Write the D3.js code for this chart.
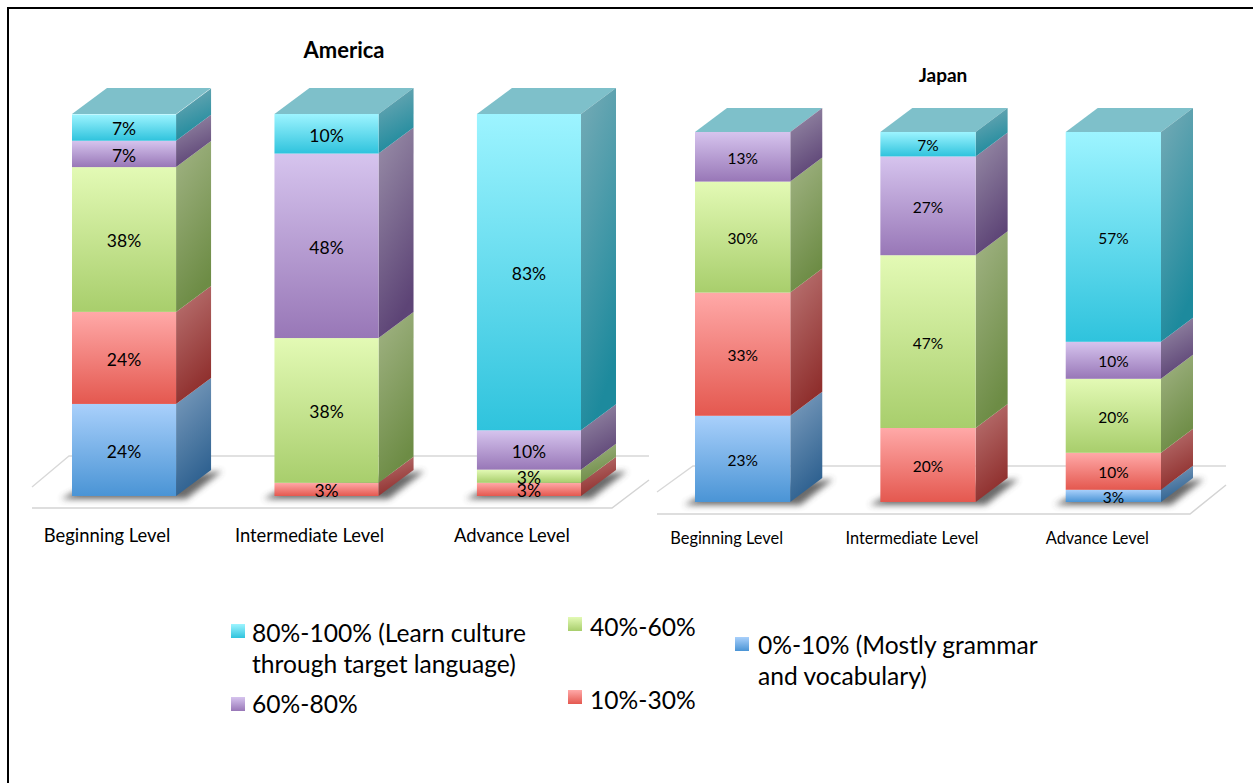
<!DOCTYPE html>
<html>
<head>
<meta charset="utf-8">
<script src="https://cdn.jsdelivr.net/npm/d3@7/dist/d3.min.js"></script>
<style>
html,body{margin:0;padding:0;background:#fff;overflow:hidden}
svg{display:block}
text{font-family:Lato,"Noto Sans",sans-serif;fill:#000}
</style>
</head>
<body>
<svg id="chart" width="1253" height="783"></svg>
<script>
// Data, stacked from the floor upward
const levels = ["Beginning Level", "Intermediate Level", "Advance Level"];
const bands = ["0%-10%", "10%-30%", "40%-60%", "60%-80%", "80%-100%"];

const americaBeginning    = [24.1, 24.1, 37.9, 6.9, 6.9];
const americaIntermediate = [0, 3.45, 37.9, 48.3, 10.35];
const americaAdvance      = [0, 3.45, 3.45, 10.3, 82.8];

const japanBeginning    = [23.3, 33.3, 30, 13.4, 0];
const japanIntermediate = [0, 20, 46.7, 26.7, 6.6];
const japanAdvance      = [3.3, 10, 20, 10, 56.7];

const legendLines = {
  "80%-100%": ["80%-100% (Learn culture", "through target language)"],
  "60%-80%": ["60%-80%"],
  "40%-60%": ["40%-60%"],
  "10%-30%": ["10%-30%"],
  "0%-10%": ["0%-10% (Mostly grammar", "and vocabulary)"]
};

// Styling
const bandColors = {
  "80%-100%": {f:["#9df4ff","#2fc3dd"], s:["#76abb6","#1d8a9d"], k:"c"},
  "60%-80%":  {f:["#d6c4ee","#9877b7"], s:["#9a8fa9","#5d4476"], k:"p"},
  "40%-60%":  {f:["#e3fab5","#a8ce6c"], s:["#a2b485","#6d8c45"], k:"g"},
  "10%-30%":  {f:["#ffa9a8","#e4584f"], s:["#bb7675","#8f2f2d"], k:"r"},
  "0%-10%":   {f:["#a9d0fb","#4a94d5"], s:["#7f9fbf","#2e6190"], k:"b"}
};
const topColor = "#7ec0ca";

const svg = d3.select("#chart");
const defs = svg.append("defs");
defs.append("filter").attr("id","blur").attr("x","-30%").attr("y","-100%").attr("width","160%").attr("height","300%")
  .append("feGaussianBlur").attr("stdDeviation",3);
bands.forEach(b => {
  const c = bandColors[b];
  const f = defs.append("linearGradient").attr("id","f"+c.k).attr("x1",0).attr("y1",0).attr("x2",0).attr("y2",1);
  f.append("stop").attr("offset",0).attr("stop-color",c.f[0]);
  f.append("stop").attr("offset",1).attr("stop-color",c.f[1]);
  const s = defs.append("linearGradient").attr("id","s"+c.k).attr("x1",0).attr("y1",0).attr("x2",0.3).attr("y2",1);
  s.append("stop").attr("offset",0).attr("stop-color",c.s[0]);
  s.append("stop").attr("offset",1).attr("stop-color",c.s[1]);
});

// Page frame: top and left rules only
svg.append("line").attr("x1",7).attr("x2",1253).attr("y1",8).attr("y2",8).attr("stroke","#000").attr("stroke-width",2);
svg.append("line").attr("x1",8).attr("x2",8).attr("y1",7).attr("y2",783).attr("stroke","#000").attr("stroke-width",2);

function panel(cfg){
  const rows = [cfg.data[0], cfg.data[1], cfg.data[2]];
  const x = d3.scaleBand().domain(levels).range(cfg.xr).paddingInner(0.486).paddingOuter(0);
  const y = d3.scaleLinear().domain([0,100]).range(cfg.yr);
  const stack = d3.stack().keys(d3.range(bands.length))
    .value((row,i)=>row[i]);
  const series = stack(rows);
  const g = svg.append("g");
  const dx = cfg.dx, dy = cfg.dy, fl = cfg.floor;

  // Floor
  g.append("path")
   .attr("d",`M${fl.l},${fl.fy-fl.h+fl.lift}L${fl.l+fl.d},${fl.by}L${fl.r+fl.d},${fl.by}`)
   .attr("fill","none").attr("stroke","#d8d8d8").attr("stroke-width",1.3);
  g.append("path")
   .attr("d",`M${fl.l},${fl.fy}L${fl.r},${fl.fy}L${fl.r+fl.d},${fl.fy-fl.h}`)
   .attr("fill","none").attr("stroke","#d4d4d4").attr("stroke-width",1.5);

  // Shadows
  g.selectAll(".shadow").data(levels).join("path").attr("class","shadow")
    .attr("filter","url(#blur)").attr("fill","#444").attr("opacity",0.8)
    .attr("d",l=>{
      const a=x(l), b=a+x.bandwidth(), yb=y(0);
      return `M${a-11},${yb+3}L${a+10},${yb-8}L${b+dx+11},${yb-dy+1}L${b+10},${yb+3}Z`;
    });

  levels.forEach((l,li)=>{
    const a=x(l), w=x.bandwidth(), bar=g.append("g");
    // Top face
    bar.append("path").attr("fill",topColor)
      .attr("d",`M${a},${y(100)}L${a+dx},${y(100)-dy}L${a+w+dx},${y(100)-dy}L${a+w},${y(100)}Z`);
    series.forEach((s,si)=>{
      const d=s[li]; if(d[1]-d[0]<=0) return;
      const k=bandColors[bands[si]].k;
      const y0=y(d[0]), y1=y(d[1]);
      bar.append("path").attr("fill",`url(#s${k})`)
        .attr("d",`M${a+w},${y1}L${a+w+dx},${y1-dy}L${a+w+dx},${y0-dy}L${a+w},${y0}Z`);
      bar.append("rect").attr("x",a).attr("y",y1).attr("width",w).attr("height",y0-y1).attr("fill",`url(#f${k})`);
    });
    series.forEach((s,si)=>{
      const d=s[li]; if(d[1]-d[0]<=0) return;
      bar.append("text").attr("x",a+w/2).attr("y",y((d[0]+d[1])/2)+cfg.fs*0.36+1.5)
        .attr("text-anchor","middle").style("font-size",cfg.fs+"px").text(Math.round(d[1]-d[0])+"%");
    });
  });

  // Category axis
  const axis = g.append("g").attr("transform",`translate(${cfg.axisDx},${cfg.axisY})`)
    .call(d3.axisBottom(x).tickSize(0).tickPadding(0));
  axis.select(".domain").remove();
  axis.selectAll("text").style("font-size",cfg.axisFs+"px").style("font-family","Lato,'Noto Sans',sans-serif").attr("fill","#000");

  // Title
  g.append("text").attr("x",cfg.tx).attr("y",cfg.ty).attr("text-anchor","middle")
    .style("font-size",cfg.tfs+"px").style("font-weight",700).text(cfg.title);
}

panel({
  title:"America", tx:344, ty:58, tfs:22,
  data:[americaBeginning, americaIntermediate, americaAdvance],
  xr:[72,581], yr:[496,114], dx:35, dy:26, fs:17.5,
  axisDx:-17, axisY:529, axisFs:18.4,
  floor:{l:32,r:612,d:37,fy:508,by:456,h:28,lift:7}
});
panel({
  title:"Japan", tx:943, ty:82, tfs:19,
  data:[japanBeginning, japanIntermediate, japanAdvance],
  xr:[695,1161], yr:[502,132], dx:32, dy:24, fs:15.5,
  axisDx:-16, axisY:532, axisFs:16.4,
  floor:{l:657,r:1190,d:36,fy:514,by:466,h:29,lift:7}
});

// Legend
const legendPlace = {
  "80%-100%": [231,624,252,642],
  "60%-80%":  [231,697,252,713],
  "40%-60%":  [568,617,590,636],
  "10%-30%":  [568,690,590,709],
  "0%-10%":   [735,637,758,654]
};
const lg = svg.append("g");
Object.keys(legendPlace).forEach(b=>{
  const p=legendPlace[b], k=bandColors[b].k;
  lg.append("rect").attr("x",p[0]).attr("y",p[1]).attr("width",14).attr("height",14).attr("fill",`url(#f${k})`);
  legendLines[b].forEach((t,i)=>{
    lg.append("text").attr("x",p[2]).attr("y",p[3]+i*31).style("font-size","24.6px").text(t);
  });
});
</script>
</body>
</html>
